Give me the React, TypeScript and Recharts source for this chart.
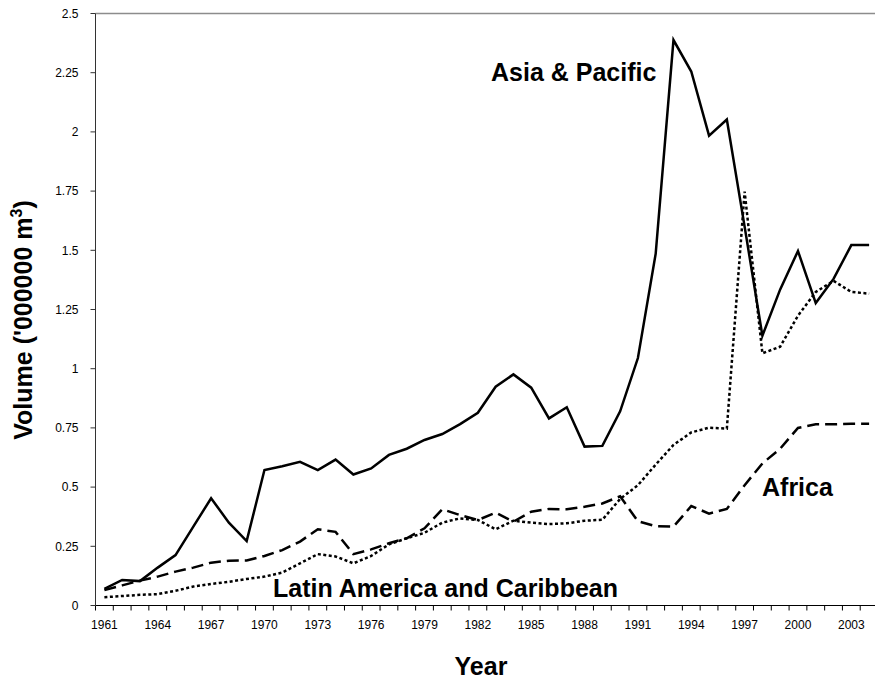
import { LineChart, Line, XAxis, YAxis, ReferenceLine } from "recharts";

const years = [
  1961, 1962, 1963, 1964, 1965, 1966, 1967, 1968, 1969, 1970, 1971, 1972, 1973, 1974, 1975,
  1976, 1977, 1978, 1979, 1980, 1981, 1982, 1983, 1984, 1985, 1986, 1987, 1988, 1989, 1990,
  1991, 1992, 1993, 1994, 1995, 1996, 1997, 1998, 1999, 2000, 2001, 2002, 2003, 2004,
];

const asiaPacific = [
  0.07, 0.108, 0.103, 0.16, 0.213, 0.333, 0.453, 0.35, 0.272, 0.572, 0.588, 0.607, 0.572, 0.616,
  0.553, 0.579, 0.636, 0.662, 0.699, 0.724, 0.766, 0.814, 0.924, 0.976, 0.92, 0.79, 0.837, 0.671,
  0.674, 0.82, 1.045, 1.486, 2.388, 2.255, 1.984, 2.052, 1.6, 1.139, 1.335, 1.497, 1.277, 1.379,
  1.522, 1.522,
];

const africa = [
  0.065, 0.085, 0.105, 0.122, 0.143, 0.16, 0.181, 0.189, 0.19, 0.209, 0.234, 0.27, 0.322, 0.311,
  0.217, 0.237, 0.263, 0.284, 0.326, 0.406, 0.382, 0.361, 0.392, 0.354, 0.396, 0.408, 0.406, 0.417,
  0.431, 0.461, 0.356, 0.335, 0.333, 0.42, 0.388, 0.408, 0.508, 0.6, 0.662, 0.75, 0.765, 0.765,
  0.768, 0.768,
];

const latinAmerica = [
  0.035, 0.04, 0.045, 0.048, 0.062, 0.08, 0.091, 0.1, 0.112, 0.122, 0.139, 0.178, 0.217, 0.207,
  0.178, 0.209, 0.258, 0.284, 0.307, 0.35, 0.368, 0.361, 0.322, 0.358, 0.35, 0.344, 0.347, 0.358,
  0.362, 0.45, 0.508, 0.595, 0.678, 0.731, 0.751, 0.747, 1.748, 1.065, 1.093, 1.224, 1.324, 1.371,
  1.324, 1.317,
];

const yTicks = [0, 0.25, 0.5, 0.75, 1, 1.25, 1.5, 1.75, 2, 2.25, 2.5];
const labelYears = [1961, 1964, 1967, 1970, 1973, 1976, 1979, 1982, 1985, 1988, 1991, 1994, 1997, 2000, 2003];

// Excel-style category axis: tick marks sit between the years
const boundaryTicks = [...years.map((y) => y - 0.5), years[years.length - 1] + 0.5];
const xDomain = [boundaryTicks[0], boundaryTicks[boundaryTicks.length - 1]];

const data = years.map((year, i) => ({
  year,
  asia: asiaPacific[i],
  africa: africa[i],
  latin: latinAmerica[i],
}));

const FONT = '"Liberation Sans", Arial, sans-serif';
const tickStyle = { fill: "#000", fontSize: 12, fontFamily: FONT };
const titleStyle = { fontFamily: FONT, fontWeight: 700, fontSize: 25, fill: "#000" };

export default function App() {
  return (
    <div
      style={{
        position: "absolute",
        left: 0,
        top: 0,
        width: 875,
        height: 679,
        overflow: "hidden",
        background: "#fff",
        fontFamily: FONT,
      }}
    >
      <LineChart
        width={880}
        height={679}
        data={data}
        margin={{ top: 13.5, right: 2, bottom: 0, left: 0 }}
      >
        <XAxis
          xAxisId="grid"
          dataKey="year"
          type="number"
          domain={xDomain}
          allowDataOverflow
          ticks={boundaryTicks}
          interval={0}
          tickFormatter={() => ""}
          tickSize={5}
          height={6}
          stroke="#000"
          tickLine={{ stroke: "#000" }}
        />
        <XAxis
          xAxisId="labels"
          dataKey="year"
          type="number"
          domain={xDomain}
          allowDataOverflow
          ticks={labelYears}
          interval={0}
          tickLine={false}
          axisLine={false}
          tickSize={0}
          tickMargin={9}
          height={67.5}
          tick={tickStyle}
        />
        <YAxis
          type="number"
          domain={[0, 2.5]}
          ticks={yTicks}
          interval={0}
          width={95.5}
          tickSize={5}
          tickMargin={12}
          stroke="#333"
          tick={tickStyle}
        />
        <ReferenceLine xAxisId="grid" y={2.5} stroke="#8c8c8c" strokeWidth={1.5} />
        <Line
          xAxisId="grid"
          type="linear"
          dataKey="latin"
          stroke="#000"
          strokeWidth={2.5}
          strokeDasharray="3 2.5"
          dot={false}
          isAnimationActive={false}
        />
        <Line
          xAxisId="grid"
          type="linear"
          dataKey="africa"
          stroke="#000"
          strokeWidth={2.5}
          strokeDasharray="12 6"
          dot={false}
          isAnimationActive={false}
        />
        <Line
          xAxisId="grid"
          type="linear"
          dataKey="asia"
          stroke="#000"
          strokeWidth={2.5}
          dot={false}
          isAnimationActive={false}
        />
      </LineChart>
      <svg
        width={875}
        height={679}
        style={{ position: "absolute", left: 0, top: 0, pointerEvents: "none" }}
      >
        <text {...titleStyle} x={491} y={80.5}>Asia &amp; Pacific</text>
        <text {...titleStyle} x={762} y={496}>Africa</text>
        <text {...titleStyle} x={273} y={597}>Latin America and Caribbean</text>
        <text {...titleStyle} x={481} y={675} textAnchor="middle">Year</text>
        <text {...titleStyle} x={32} y={320} textAnchor="middle" transform="rotate(-90, 32, 320)">
          Volume ('000000 m<tspan fontSize={16} dy={-10}>3</tspan>
          <tspan dy={10}>)</tspan>
        </text>
      </svg>
    </div>
  );
}
